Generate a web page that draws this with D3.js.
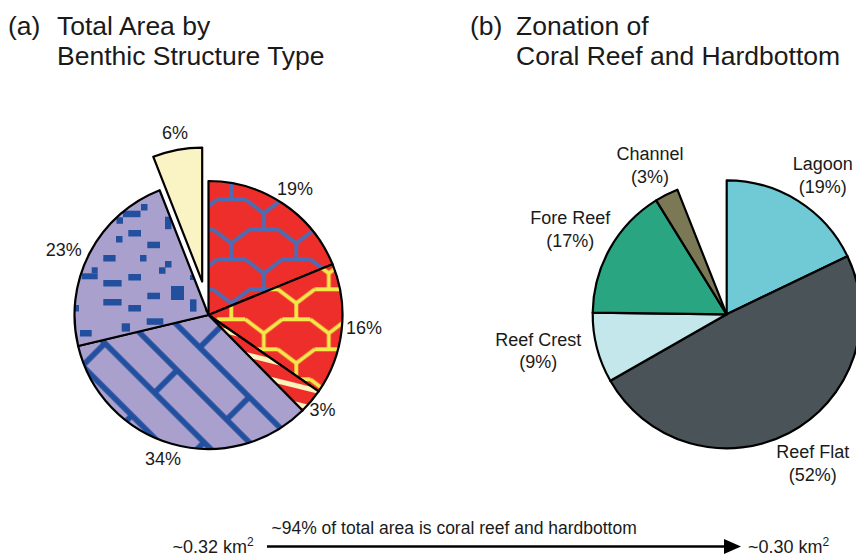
<!DOCTYPE html>
<html>
<head>
<meta charset="utf-8">
<script src="https://cdn.jsdelivr.net/npm/d3@7"></script>
<style>
  body { margin: 0; background: #fff; }
  svg text { font-family: "Liberation Sans", Arial, Helvetica, sans-serif; fill: #1a1a1a; }
</style>
</head>
<body>
<svg id="chart" width="856" height="556"></svg>
<script>
// ---------------- DATA ----------------
const structureTypes = ["Reef type A", "Reef type B", "Reef type C", "Hardbottom A", "Hardbottom B", "Unconsolidated"];
const structureValues = [19, 16, 3, 34, 23, 6];
const structureLabels = ["19%", "16%", "3%", "34%", "23%", "6%"];

const zoneNames  = ["Lagoon", "Reef Flat", "Reef Crest", "Fore Reef", "Channel"];
const zoneValues = [19, 52, 9, 17, 3];
const zoneLabels = ["(19%)", "(52%)", "(9%)", "(17%)", "(3%)"];

const coralShare = 94;           // % of total area that is coral reef and hardbottom
const totalAreaText = "~0.32 km";
const reefAreaText  = "~0.30 km";
const titleA = ["(a)", "Total Area by", "Benthic Structure Type"];
const titleB = ["(b)", "Zonation of", "Coral Reef and Hardbottom"];

// ---------------- LAYOUT / STYLE ----------------
const R = 134;
const leftC = [208.5, 315];
const rightC = [726.7, 314.3];
const explodeIndex = 5, explodeOffset = 34;
// label placement: [angle from north (deg), distance from pie centre]
const leftLabelPolar = [[34.3, 153.6], [94.5, 156], [129.6, 148], [197.5, 151], [294.5, 159], [349.6, 186]];
const rightLabelPolar = [[34.6, 169], [150, 172], [259, 192], [298.5, 178], [332.8, 167.6]];

const RED = "#EE2E2A", NETBLUE = "#4A6DB6", NETYELLOW = "#F2E84A", CREAM = "#FAF3C4",
      STRIPE = "#FBF2BC", LAV = "#A9A0CE", DKBLUE = "#22509F";
const zoneColors = ["#6FCAD6", "#4A5358", "#C4E7EB", "#2AA581", "#7B7955"];

const svg = d3.select("#chart");
const defs = svg.append("defs");

// net (chain) pattern on red
function netPattern(id, color) {
  const p = defs.append("pattern").attr("id", id).attr("patternUnits", "userSpaceOnUse")
    .attr("x", 231.3 - leftC[0]).attr("y", 243.3 - leftC[1]).attr("width", 65).attr("height", 60);
  p.append("rect").attr("width", 65).attr("height", 60).attr("fill", RED);
  const nodes = [[0, 0], [65, 0], [32.5, 30], [0, 60], [65, 60]];
  const d = nodes.map(([x, y]) =>
    `M${x - 18.5},${y - 14}L${x},${y}L${x + 18.5},${y - 14}M${x},${y}L${x},${y + 16}M${x - 14},${y + 16}L${x + 14},${y + 16}`).join("");
  p.append("path").attr("d", d).attr("fill", "none").attr("stroke", color).attr("stroke-width", 3.8);
}
netPattern("netBlue", NETBLUE);
netPattern("netYellow", NETYELLOW);

// stripes on red
{
  const p = defs.append("pattern").attr("id", "stripes").attr("patternUnits", "userSpaceOnUse")
    .attr("width", 40).attr("height", 18)
    .attr("patternTransform", `translate(${266 - leftC[0]},${357 - leftC[1]}) rotate(14)`);
  p.append("rect").attr("width", 40).attr("height", 18).attr("fill", RED);
  p.append("rect").attr("y", 0).attr("width", 40).attr("height", 5).attr("fill", STRIPE);
}
// bricks on lavender
{
  const p = defs.append("pattern").attr("id", "bricks").attr("patternUnits", "userSpaceOnUse")
    .attr("width", 140).attr("height", 64)
    .attr("patternTransform", `translate(${105 - leftC[0]},${343.3 - leftC[1]}) rotate(45)`);
  p.append("rect").attr("width", 140).attr("height", 64).attr("fill", LAV);
  const w = 5.6;
  [[0, -w / 2, 140, w], [0, 32 - w / 2, 140, w], [0, 64 - w / 2, 140, w],
   [-w / 2, 0, w, 32], [140 - w / 2, 0, w, 32], [70 - w / 2, 32, w, 32]]
    .forEach(([x, y, ww, hh]) => p.append("rect").attr("x", x).attr("y", y).attr("width", ww).attr("height", hh).attr("fill", DKBLUE));
}
// scattered dashes on lavender
{
  const p = defs.append("pattern").attr("id", "dashes").attr("patternUnits", "userSpaceOnUse")
    .attr("x", 75 - leftC[0]).attr("y", 190 - leftC[1]).attr("width", 130).attr("height", 150);
  p.append("rect").attr("width", 130).attr("height", 150).attr("fill", LAV);
  const rs = [[66,14,6.5,6.5],[48,20.7,17.5,6.5],[41.5,27.3,6.5,6.5],[90,26.7,6.5,12.5],[53.3,40,12.7,6.5],
    [41,46,6.5,6.5],[72.3,51.7,12.7,6.5],[28.3,65,12.3,6.5],[65,65,6.5,6.5],[90,71,6.5,6.5],[84,77.3,6.5,6.5],
    [16.7,77.3,6,6],[6.7,83.3,16,6],[53.3,84,12.7,6.5],[28.3,90,18.3,6.5],[96,96,13,14],[72.3,102.7,12.7,6.5],
    [28.3,109,18.3,6.5],[53.3,115,12.7,6.5],[115,109.3,6.5,12.3],[0,115,4,6.5],[115,85,5,5],
    [71.7,128.3,16.6,6.5],[46.7,133.3,8.3,8.3],[5,140,11.7,6.5],[96.7,138,11.7,6.5],[118,20,8,6.5],[112,50,6.5,6.5]];
  rs.forEach(([x, y, w, h]) => p.append("rect").attr("x", x).attr("y", y).attr("width", w).attr("height", h).attr("fill", DKBLUE));
}
const leftFills = ["url(#netBlue)", "url(#netYellow)", "url(#stripes)", "url(#bricks)", "url(#dashes)", CREAM];

// ---------------- LEFT PIE ----------------
const arc = d3.arc().innerRadius(0).outerRadius(R);
const leftArcs = d3.pie().sort(null).value(d => d)(structureValues);
const toRad = a => a * Math.PI / 180;
const polar = (deg, r) => [r * Math.sin(toRad(deg)), -r * Math.cos(toRad(deg))];
const midA = d => (d.startAngle + d.endAngle) / 2;

const gL = svg.append("g").attr("transform", `translate(${leftC})`);
gL.selectAll("path.slice").data(leftArcs).join("path").attr("class", "slice")
  .attr("d", arc)
  .attr("transform", (d, i) => i === explodeIndex
    ? `translate(${explodeOffset * Math.sin(midA(d))},${-explodeOffset * Math.cos(midA(d))})` : null)
  .attr("fill", (d, i) => leftFills[i])
  .attr("stroke", "#000").attr("stroke-width", 2.2).attr("stroke-linejoin", "round");

gL.selectAll("text.lbl").data(leftArcs).join("text").attr("class", "lbl")
  .attr("x", (d, i) => polar(...leftLabelPolar[i])[0])
  .attr("y", (d, i) => polar(...leftLabelPolar[i])[1])
  .attr("dy", "0.36em").attr("text-anchor", "middle").attr("font-size", 18)
  .text((d, i) => structureLabels[i]);

// ---------------- RIGHT PIE ----------------
const rightArcs = d3.pie().sort(null).value(d => d)
  .startAngle(0).endAngle(2 * Math.PI * coralShare / 100)(zoneValues);
const gR = svg.append("g").attr("transform", `translate(${rightC})`);
gR.selectAll("path").data(rightArcs).join("path")
  .attr("d", arc).attr("fill", (d, i) => zoneColors[i])
  .attr("stroke", "#000").attr("stroke-width", 2.2).attr("stroke-linejoin", "round");

const rl = gR.selectAll("text.lbl").data(rightArcs).join("text").attr("class", "lbl")
  .attr("text-anchor", "middle").attr("font-size", 18)
  .attr("transform", (d, i) => `translate(${polar(...rightLabelPolar[i])})`);
rl.append("tspan").attr("x", 0).attr("y", -5).text((d, i) => zoneNames[i]);
rl.append("tspan").attr("x", 0).attr("y", 17.5).text((d, i) => zoneLabels[i]);

// ---------------- TITLES ----------------
function title(t, x0, x1) {
  const g = svg.append("g").attr("font-size", 26.5);
  g.append("text").attr("x", x0).attr("y", 34.5).text(t[0]);
  g.append("text").attr("x", x1).attr("y", 34.5).text(t[1]);
  g.append("text").attr("x", x1).attr("y", 65).text(t[2]);
}
title(titleA, 8, 57);
title(titleB, 470, 516);

// ---------------- BOTTOM ARROW ----------------
const ax0 = 267, ax1 = 741, ay = 546.5;
svg.append("line").attr("x1", ax0).attr("x2", ax1 - 14).attr("y1", ay).attr("y2", ay)
  .attr("stroke", "#000").attr("stroke-width", 2.7);
svg.append("path").attr("d", `M${ax1 - 17},${ay - 7.5}L${ax1},${ay}L${ax1 - 17},${ay + 7.5}Z`).attr("fill", "#000");
svg.append("text").attr("x", 271.5).attr("y", 534).attr("font-size", 17.5)
  .text(`~${coralShare}% of total area is coral reef and hardbottom`);
const t1 = svg.append("text").attr("x", 172.5).attr("y", 552.5).attr("font-size", 18);
t1.append("tspan").text(totalAreaText);
t1.append("tspan").attr("dy", -7).attr("font-size", 12).text("2");
const t2 = svg.append("text").attr("x", 748).attr("y", 552.5).attr("font-size", 18);
t2.append("tspan").text(reefAreaText);
t2.append("tspan").attr("dy", -7).attr("font-size", 12).text("2");
</script>
</body>
</html>
